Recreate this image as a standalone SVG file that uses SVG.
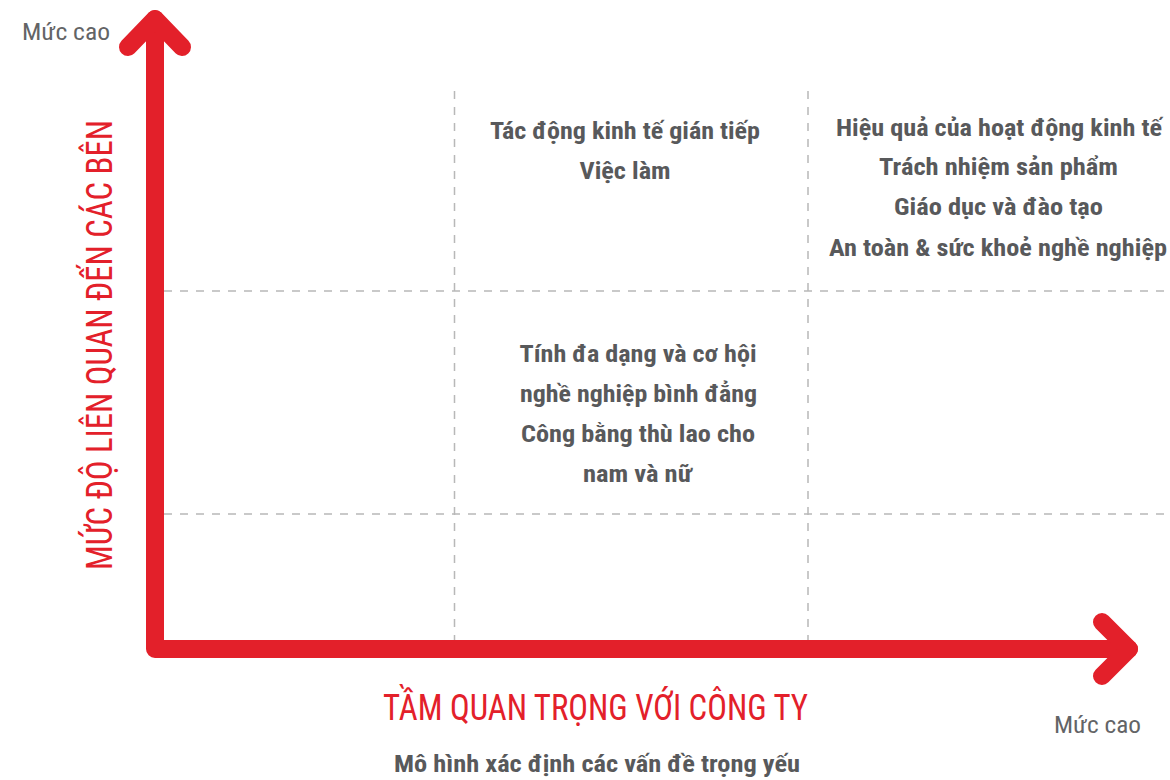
<svg xmlns="http://www.w3.org/2000/svg" width="1170" height="780" viewBox="0 0 1170 780">
<style>
.axis{fill:none;stroke:#e3202a;stroke-width:18;stroke-linecap:round;stroke-linejoin:round}
.grid{fill:none;stroke:#b8b8b8;stroke-width:1.5;stroke-dasharray:8 8}
.item{font-family:"Roboto Condensed","Liberation Sans Narrow","DejaVu Sans Condensed","Liberation Sans",sans-serif;font-weight:bold;font-size:24px;fill:#58595b;text-anchor:middle}
.lvl{font-family:"Roboto Condensed","Liberation Sans Narrow","DejaVu Sans Condensed","Liberation Sans",sans-serif;font-size:24px;fill:#636466}
.title{font-family:"Roboto Condensed","Liberation Sans Narrow","DejaVu Sans Condensed","Liberation Sans",sans-serif;font-size:36px;fill:#e3202a;text-anchor:middle}
</style>
<rect width="1170" height="780" fill="#ffffff"/>
<g id="grid">
<line class="grid" x1="454.5" y1="91" x2="454.5" y2="640"/>
<line class="grid" x1="808" y1="91" x2="808" y2="640"/>
<line class="grid" x1="164" y1="291" x2="1170" y2="291"/>
<line class="grid" x1="164" y1="514" x2="1170" y2="514"/>
</g>
<g id="connectors">
<path class="axis" d="M155,19 V649 H1129"/>
<path class="axis" d="M128,47 L155,19 L182,47"/>
<path class="axis" d="M1102,622 L1129,649 L1102,676"/>
</g>
<g id="y-axis-label">
<text class="title" transform="translate(112,345) rotate(-90)" textLength="450" lengthAdjust="spacingAndGlyphs">MỨC ĐỘ LIÊN QUAN ĐẾN CÁC BÊN</text>
<text class="lvl" x="22" y="40" textLength="88" lengthAdjust="spacingAndGlyphs">Mức cao</text>
</g>
<g id="x-axis-label">
<text class="title" x="595.5" y="720" textLength="425" lengthAdjust="spacingAndGlyphs">TẦM QUAN TRỌNG VỚI CÔNG TY</text>
<text class="lvl" x="1054" y="733" textLength="87" lengthAdjust="spacingAndGlyphs">Mức cao</text>
</g>
<g id="top-middle">
<text class="item" x="625" y="139" textLength="270" lengthAdjust="spacingAndGlyphs">Tác động kinh tế gián tiếp</text>
<text class="item" x="625" y="179" textLength="91" lengthAdjust="spacingAndGlyphs">Việc làm</text>
</g>
<g id="top-right">
<text class="item" x="999" y="136" textLength="326" lengthAdjust="spacingAndGlyphs">Hiệu quả của hoạt động kinh tế</text>
<text class="item" x="998.5" y="175" textLength="239" lengthAdjust="spacingAndGlyphs">Trách nhiệm sản phẩm</text>
<text class="item" x="998.5" y="215" textLength="209" lengthAdjust="spacingAndGlyphs">Giáo dục và đào tạo</text>
<text class="item" x="998" y="256" textLength="338" lengthAdjust="spacingAndGlyphs">An toàn &amp; sức khoẻ nghề nghiệp</text>
</g>
<g id="center">
<text class="item" x="638" y="362" textLength="237" lengthAdjust="spacingAndGlyphs">Tính đa dạng và cơ hội</text>
<text class="item" x="638.5" y="402" textLength="237" lengthAdjust="spacingAndGlyphs">nghề nghiệp bình đẳng</text>
<text class="item" x="638" y="442" textLength="234" lengthAdjust="spacingAndGlyphs">Công bằng thù lao cho</text>
<text class="item" x="637.5" y="482" textLength="109" lengthAdjust="spacingAndGlyphs">nam và nữ</text>
</g>
<g id="caption">
<text class="item" x="597" y="772" textLength="406" lengthAdjust="spacingAndGlyphs">Mô hình xác định các vấn đề trọng yếu</text>
</g>
</svg>
